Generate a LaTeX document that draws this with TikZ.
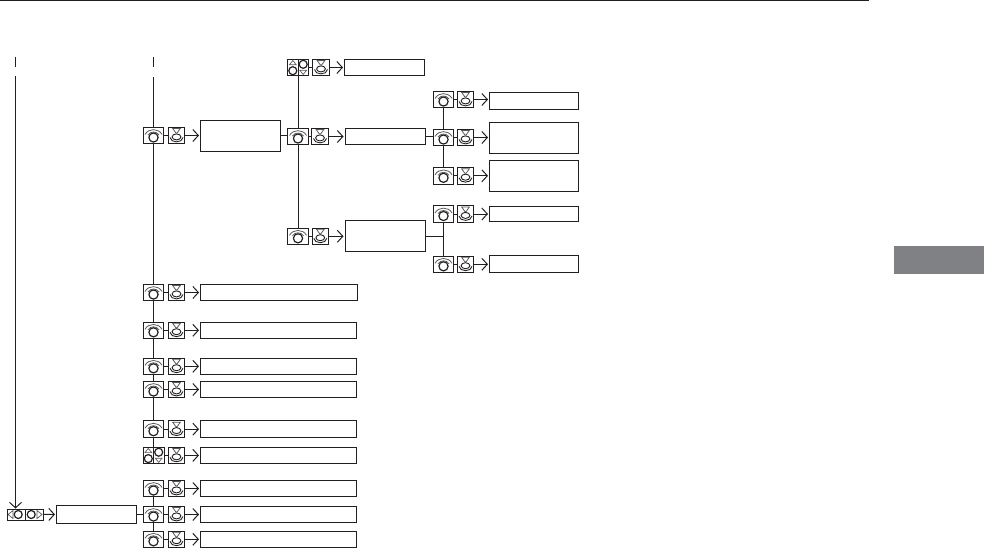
\documentclass[tikz,border=0pt]{standalone}
\usetikzlibrary{arrows.meta}
\definecolor{ink}{HTML}{231F20}
\definecolor{glyph}{HTML}{58595B}
\definecolor{tabgray}{HTML}{808184}

% Small pictures inside the control icons
\newcommand{\dialglyph}{%
  \draw[ink, line width=1.2pt] (0,2) circle (4.6);
  \draw[glyph, line width=0.8pt] (-8.5,-1) .. controls (-5,-7.5) and (5,-7.5) .. (8.5,-1);
  \draw[glyph, line width=0.8pt] (-5.5,-0.5) .. controls (-3,-4.5) and (3,-4.5) .. (5.5,-0.5);
}
\newcommand{\pressglyph}{%
  \draw[glyph, line width=0.8pt] (-3.8,-7) -- (3.8,-7) -- (0.6,-2.5) -- (-0.6,-2.5) -- cycle;
  \draw[ink, line width=0.9pt] (0,1.4) ellipse (4.4 and 3);
  \draw[ink, line width=0.9pt] (-6.5,2) .. controls (-6,7.8) and (6,7.8) .. (6.5,2);
}
\newcommand{\updownglyph}{%
  \draw[ink, line width=1pt] (0,-9) -- (0,9);
  \draw[glyph, line width=0.7pt] (-8.5,-2.8) -- (-1.8,-2.8) -- (-5.2,-7) -- cycle;
  \draw[ink, line width=1.2pt] (-5.2,3.2) circle (4);
  \draw[ink, line width=1.2pt] (5.2,-3.2) circle (4);
  \draw[glyph, line width=0.7pt] (1.8,2.8) -- (8.5,2.8) -- (5.2,7) -- cycle;
}
\newcommand{\leftrightglyph}{%
  \draw[glyph, line width=0.7pt] (-12,-4) -- (-12,4) -- (-17,0) -- cycle;
  \draw[ink, line width=1.2pt] (-6.8,0) circle (4);
  \draw[ink, line width=1.2pt] (6.2,0) circle (4);
  \draw[ink, line width=1pt] (0,-6) -- (0,6);
  \draw[glyph, line width=0.7pt] (12,-4) -- (12,4) -- (17,0) -- cycle;
}

\begin{document}
\begin{tikzpicture}[
    x=1pt, y=-1pt,
    icon/.style={draw=ink, line width=1pt, inner sep=0pt, minimum height=16.5pt, path picture={
        \begin{scope}[shift={(path picture bounding box.center)}] #1 \end{scope}}},
    dial/.style={icon={\dialglyph}, minimum width=20.5pt},
    press/.style={icon={\pressglyph}, minimum width=16.5pt},
    updown/.style={icon={\updownglyph}, minimum width=21pt},
    leftright/.style={icon={\leftrightglyph}, minimum width=36pt, minimum height=11pt},
    box/.style={draw=ink, line width=1pt, inner sep=0pt, minimum height=16.5pt},
    link/.style={draw=ink, line width=1pt},
    arrow/.style={link, -{Straight Barb[length=5.5pt, width=12pt]}, shorten >=1pt}
]
\useasboundingbox (0,0) rectangle (984,548);

% Page furniture
\coordinate (rulel) at (0,0.7);
\coordinate (ruler) at (869,0.7);
\draw[ink, line width=1.5pt] (rulel) -- (ruler);
\node[fill=tabgray, inner sep=0pt, minimum width=90pt, minimum height=28pt] (tab) at (939,260) {};

% Free ends of the two long lines
\coordinate (ticka) at (15.5,57);
\coordinate (tickb) at (15.5,67);
\coordinate (leftline) at (15.5,76);
\coordinate (tickc) at (153.5,57);
\coordinate (tickd) at (153.5,67);
\coordinate (spine) at (153.5,77);

% Main branch
\node[dial] (dial1) at (153.5,135.5) {};
\node[press] (press1) at (176.5,135.5) {};
\node[box, minimum width=80pt, minimum height=31pt] (box1) at (240.5,136) {};

% Second column
\node[updown] (dial2) at (298,67.5) {};
\node[press] (press2) at (321,67.5) {};
\node[box, minimum width=80pt] (box2) at (384.5,67.5) {};
\node[dial] (dial3) at (298,136.5) {};
\node[press] (press3) at (320,136.5) {};
\node[box, minimum width=80pt] (box3) at (385,136.5) {};
\node[dial] (dial4) at (298,236.3) {};
\node[press] (press4) at (320.3,236.3) {};
\node[box, minimum width=80pt, minimum height=31pt] (box4) at (385,236) {};

% Third column
\node[dial] (dial5) at (443.5,99.5) {};
\node[press] (press5) at (465.5,99.5) {};
\node[box, minimum width=89pt, minimum height=17pt] (box5) at (534,101) {};
\node[dial] (dial6) at (443.5,137.5) {};
\node[press] (press6) at (465.5,137.5) {};
\node[box, minimum width=89pt, minimum height=31pt] (box6) at (534,138) {};
\node[dial] (dial7) at (443.5,175.8) {};
\node[press] (press7) at (465.5,175.8) {};
\node[box, minimum width=89pt, minimum height=31pt] (box7) at (534,176) {};
\node[dial] (dial8) at (443.5,214) {};
\node[press] (press8) at (465.5,214) {};
\node[box, minimum width=89pt, minimum height=15pt] (box8) at (534,214) {};
\node[dial] (dial9) at (443.5,264.3) {};
\node[press] (press9) at (465.5,264.3) {};
\node[box, minimum width=89pt] (box9) at (534,264) {};

% Long list under the main branch
\node[dial] (dial10) at (153.5,292.5) {};
\node[press] (press10) at (176.5,292.5) {};
\node[box, minimum width=156.5pt] (box10) at (278.8,292.5) {};
\node[dial] (dial11) at (153.5,330.3) {};
\node[press] (press11) at (176.5,330.3) {};
\node[box, minimum width=156pt] (box11) at (278.5,330.3) {};
\node[dial] (dial12) at (153.5,366.3) {};
\node[press] (press12) at (176.5,366.3) {};
\node[box, minimum width=156pt] (box12) at (278.5,366.3) {};
\node[dial] (dial13) at (153.5,389.5) {};
\node[press] (press13) at (176.5,389.5) {};
\node[box, minimum width=156pt] (box13) at (278.5,389.5) {};
\node[dial] (dial14) at (153.5,429.2) {};
\node[press] (press14) at (176.5,429.2) {};
\node[box, minimum width=156pt] (box14) at (278.5,429.2) {};
\node[updown] (dial15) at (153.5,455.4) {};
\node[press] (press15) at (176.5,455.4) {};
\node[box, minimum width=156pt] (box15) at (278.5,455.4) {};
\node[dial] (dial16) at (153.5,488.5) {};
\node[press] (press16) at (176.5,488.5) {};
\node[box, minimum width=156pt] (box16) at (278.5,488.5) {};
\node[dial] (dial17) at (153.5,514.5) {};
\node[press] (press17) at (176.5,514.5) {};
\node[box, minimum width=156pt] (box17) at (278.5,514.5) {};
\node[dial] (dial18) at (153.5,539.3) {};
\node[press] (press18) at (176.5,539.3) {};
\node[box, minimum width=156pt] (box18) at (278.5,539.3) {};

% Bottom left entry
\node[leftright] (turn) at (25,514.5) {};
\node[box, minimum width=80pt, minimum height=18pt] (boxturn) at (96.5,514.3) {};

% Dial to press to box
\draw[link] (dial1) -- (press1);
\draw[arrow] (press1) -- (box1.west |- press1);
\draw[link] (dial2) -- (press2);
\draw[arrow] (press2) -- (box2);
\draw[link] (dial3) -- (press3);
\draw[arrow] (press3) -- (box3);
\draw[link] (dial4) -- (press4);
\draw[arrow] (press4) -- (box4.west |- press4);
\draw[link] (dial5) -- (press5);
\draw[arrow] (press5) -- (box5.west |- press5);
\draw[link] (dial6) -- (press6);
\draw[arrow] (press6) -- (box6.west |- press6);
\draw[link] (dial7) -- (press7);
\draw[arrow] (press7) -- (box7.west |- press7);
\draw[link] (dial8) -- (press8);
\draw[arrow] (press8) -- (box8);
\draw[link] (dial9) -- (press9);
\draw[arrow] (press9) -- (box9.west |- press9);
\draw[link] (dial10) -- (press10);
\draw[arrow] (press10) -- (box10);
\draw[link] (dial11) -- (press11);
\draw[arrow] (press11) -- (box11);
\draw[link] (dial12) -- (press12);
\draw[arrow] (press12) -- (box12);
\draw[link] (dial13) -- (press13);
\draw[arrow] (press13) -- (box13);
\draw[link] (dial14) -- (press14);
\draw[arrow] (press14) -- (box14);
\draw[link] (dial15) -- (press15);
\draw[arrow] (press15) -- (box15);
\draw[link] (dial16) -- (press16);
\draw[arrow] (press16) -- (box16);
\draw[link] (dial17) -- (press17);
\draw[arrow] (press17) -- (box17);
\draw[link] (dial18) -- (press18);
\draw[arrow] (press18) -- (box18);
\draw[arrow] (turn) -- (boxturn);

% Branch lines
\draw[link] (ticka) -- (tickb);
\draw[link] (tickc) -- (tickd);
\draw[arrow, shorten >=0pt] (leftline) -- (leftline |- turn.north);
\draw[link] (spine) -- (dial1.north);
\draw[link] (dial1.south) -- (dial10.north);
\draw[link] (dial10.south) -- (dial11.north);
\draw[link] (dial11.south) -- (dial12.north);
\draw[link] (dial12.south) -- (dial13.north);
\draw[link] (dial13.south) -- (dial14.north);
\draw[link] (dial14.south) -- (dial15.north);
\draw[link] (dial16.south) -- (dial17.north);
\draw[link] (dial17.south) -- (dial18.north);
\draw[link] (box1.east) -- (dial3.west |- box1.east);
\draw[link] (dial2.south) -- (dial3.north);
\draw[link] (dial3.south) -- (dial4.north);
\draw[link] (box3.east) -- (dial6.west |- box3.east);
\draw[link] (dial5.south) -- (dial6.north);
\draw[link] (dial6.south) -- (dial7.north);
\draw[link] (box4.east) -- (box4.east -| dial8.south);
\draw[link] (dial8.south) -- (dial9.north);
\draw[link] (boxturn.east) -- (dial17.west |- boxturn.east);

\end{tikzpicture}
\end{document}
